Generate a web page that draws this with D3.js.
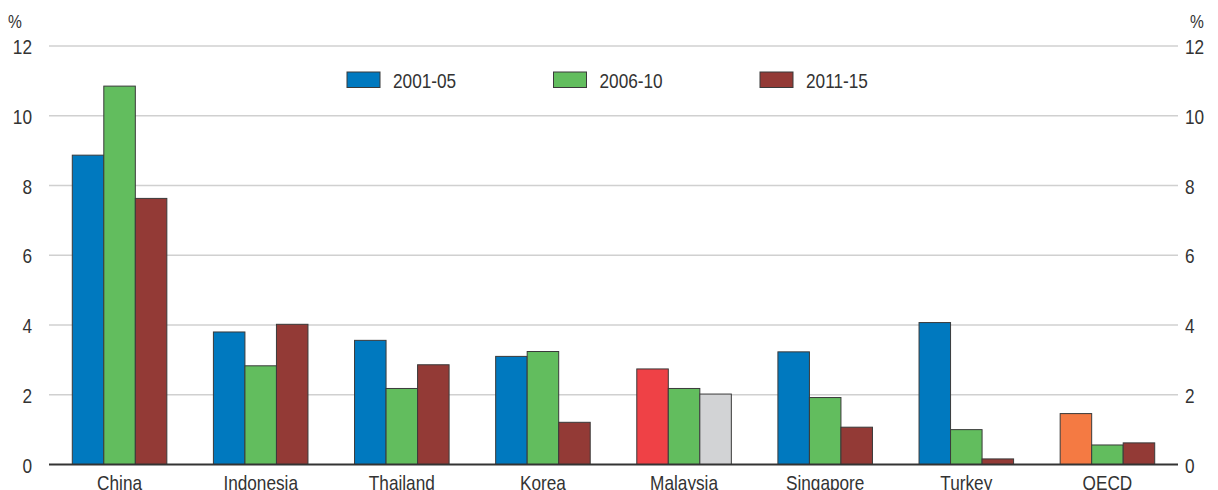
<!DOCTYPE html>
<html><head><meta charset="utf-8">
<script src="https://cdn.jsdelivr.net/npm/d3@7"></script>
<style>
body{margin:0;background:#fff;}
svg text{font-family:"Liberation Sans",Arial,sans-serif;fill:#333;}
</style></head>
<body>
<svg id="chart" width="1218" height="490"></svg>
<script>
const categories = ["China","Indonesia","Thailand","Korea","Malaysia","Singapore","Turkey","OECD"];
const seriesNames = ["2001-05","2006-10","2011-15"];
const s2001_05 = [8.87, 3.80, 3.56, 3.10, 2.74, 3.23, 4.07, 1.46];
const s2006_10 = [10.85, 2.83, 2.18, 3.24, 2.18, 1.92, 1.00, 0.56];
const s2011_15 = [7.63, 4.02, 2.86, 1.21, 2.02, 1.07, 0.16, 0.62];
const yTicks = [0, 2, 4, 6, 8, 10, 12];

const seriesColors = ["#0079bf", "#62bd5e", "#933a36"];
const overrideColors = {"Malaysia": ["#ef4146", "#62bd5e", "#d2d3d5"], "OECD": ["#f47a43", "#62bd5e", "#933a36"]};

const svg = d3.select("#chart");
const mLeft = 49, mRight = 1178, mTop = 46, mBottom = 464.5;
const NARROW = 0.82;

function ntext(g, xp, yp, str, anchor, size) {
  return g.append("text")
    .attr("transform", `translate(${xp},${yp}) scale(${NARROW},1)`)
    .attr("text-anchor", anchor).attr("font-size", size).text(str);
}

const x = d3.scaleBand().domain(categories).range([mLeft, mRight]).paddingInner(0.33).paddingOuter(0.165);
const xs = d3.scaleBand().domain(seriesNames).range([0, x.bandwidth()]);
const y = d3.scaleLinear().domain([0, 12]).range([mBottom, mTop]);

// gridlines
svg.append("g").selectAll("line").data(yTicks.filter(d => d > 0)).join("line")
  .attr("x1", mLeft).attr("x2", mRight)
  .attr("y1", d => y(d)).attr("y2", d => y(d))
  .attr("stroke", "#d0d0d0").attr("stroke-width", 1.5);

// axis tick labels (left and right)
const axL = svg.append("g");
const axR = svg.append("g");
yTicks.forEach(t => {
  ntext(axL, 32, y(t) + 8, d3.format("d")(t), "end", 21);
  ntext(axR, 1185, y(t) + 8, d3.format("d")(t), "start", 21);
});
ntext(svg, 15, 28, "%", "middle", 19);
ntext(svg, 1197, 28, "%", "middle", 19);

// bars
const series = [s2001_05, s2006_10, s2011_15];
const barData = [];
categories.forEach((c, i) => {
  seriesNames.forEach((s, j) => {
    const col = overrideColors[c] ? overrideColors[c][j] : seriesColors[j];
    barData.push({cat: c, ser: s, value: series[j][i], color: col});
  });
});
svg.append("g").selectAll("rect").data(barData).join("rect")
  .attr("x", d => x(d.cat) + xs(d.ser))
  .attr("width", xs.bandwidth())
  .attr("y", d => y(d.value))
  .attr("height", d => y(0) - y(d.value))
  .attr("fill", d => d.color)
  .attr("stroke", "#3a3a3a").attr("stroke-width", 1);

// baseline
svg.append("line").attr("x1", mLeft).attr("x2", mRight).attr("y1", y(0)).attr("y2", y(0))
  .attr("stroke", "#333").attr("stroke-width", 2.2);

// category labels
const catG = svg.append("g");
categories.forEach(c => ntext(catG, x(c) + x.bandwidth() / 2, 490, c, "middle", 21));

// legend
const legX = [347, 553.5, 760];
const legG = svg.append("g");
seriesNames.forEach((s, i) => {
  legG.append("rect").attr("x", legX[i]).attr("y", 72).attr("width", 33).attr("height", 15.5)
    .attr("fill", seriesColors[i]).attr("stroke", "#3a3a3a").attr("stroke-width", 1);
  ntext(legG, legX[i] + 46, 88, s, "start", 21);
});
</script>
</body></html>
